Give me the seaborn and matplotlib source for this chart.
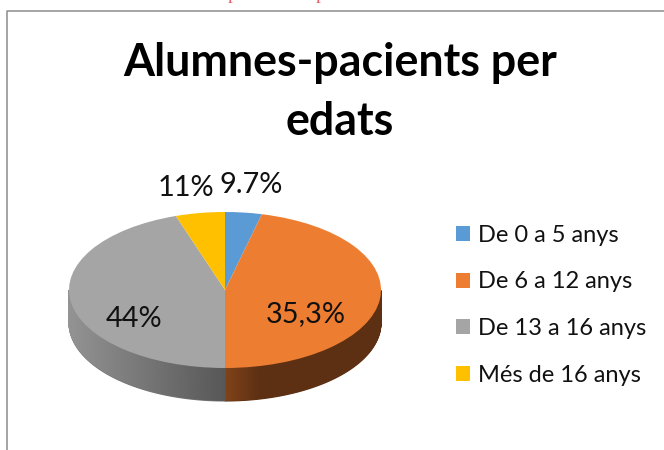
import numpy as np
import matplotlib
matplotlib.use("Agg")
import matplotlib.pyplot as plt
from matplotlib.patches import Patch
from matplotlib.colors import LinearSegmentedColormap
import seaborn as sns

categories = ["De 0 a 5 anys", "De 6 a 12 anys", "De 13 a 16 anys", "Més de 16 anys"]
slice_shares = [3.8, 46.2, 44.9, 5.1]
slice_labels = ["9.7%", "35,3%", "44%", "11%"]
colors = ["#5B9BD5", "#ED7D31", "#A5A5A5", "#FFC000"]
title_lines = ["Alumnes-pacients per", "edats"]

W, H = 664, 450
sns.set_theme(style="white")
plt.rcParams["font.family"] = ["Lato", "DejaVu Sans"]

fig = plt.figure(figsize=(W / 100, H / 100), dpi=100, facecolor="white")
ax = fig.add_axes([0, 0, 1, 1])
YS = 2.0  # pie is flattened to half its height


def Y(p):
    return (H - p) * YS


cx, cy, r, depth = 225, Y(290), 156, 33 * YS

# side wall of the flattened pie: (near colour, far colour, fade width)
shade = {1: ("#804319", "#5E3013", 0.22), 2: ("#585858", "#939393", 1.0)}
edges = 90 - np.concatenate([[0], np.cumsum(slice_shares)]) / sum(slice_shares) * 360
for i, (near, far, fade) in shade.items():
    th = np.radians(np.linspace(edges[i], edges[i + 1], 400))
    th = th[np.sin(th) <= 1e-9]
    x = cx + r * np.cos(th)
    top = cy + r * np.sin(th)
    # plain underlay keeps the curved lower edge smooth
    ax.fill(np.r_[x, x[::-1]], np.r_[top, top[::-1] - depth], color=far if i == 1 else "#767676",
            lw=0.8, zorder=1)
    f = np.clip(np.abs(x - cx) / r / fade, 0, 1)
    cmap = LinearSegmentedColormap.from_list(f"side{i}", [near, far])
    ax.pcolormesh(np.vstack([x, x]), np.vstack([top, top - depth + 1.5]), np.vstack([f, f]),
                  shading="gouraud", cmap=cmap, vmin=0, vmax=1, zorder=1.5)

ax.pie(
    slice_shares, colors=colors, startangle=90, counterclock=False,
    center=(cx, cy), radius=r, frame=True,
    wedgeprops=dict(linewidth=0, zorder=2),
)
ax.set_aspect("auto")
ax.set_xlim(0, W)
ax.set_ylim(0, H * YS)
ax.axis("off")

# chart frame, open on the right and at the bottom
ax.plot([6.5, 6.5, W], [0, Y(10.5), Y(10.5)], color="#8C8C8C", lw=1.1, zorder=0)

# cut-off line of text above the frame
for px in (232, 321):
    ax.text(px, Y(-1), "p", color="#E5606A", fontsize=14, family="Liberation Serif",
            ha="center", va="baseline")

for line, py in zip(title_lines, (63, 122)):
    ax.text(340, Y(py), line, ha="center", va="center", fontsize=32.2, fontweight="bold",
            color="black")

label_pos = [(251, 185), (306, 314), (134, 319), (186, 188)]
for lab, (px, py) in zip(slice_labels, label_pos):
    ax.text(px, Y(py), lab, ha="center", va="center", fontsize=20.8, color="#111111", zorder=5)

handles = [Patch(facecolor=c, edgecolor="none") for c in colors]
ax.legend(
    handles, categories, loc="upper left", bbox_to_anchor=(456 / W, 1 - 225 / H),
    frameon=False, fontsize=17, labelspacing=1.08, handlelength=0.6, handleheight=0.6,
    handletextpad=0.34, borderpad=0, borderaxespad=0, labelcolor="#111111",
)

fig.savefig("out.png", dpi=100, facecolor="white")
